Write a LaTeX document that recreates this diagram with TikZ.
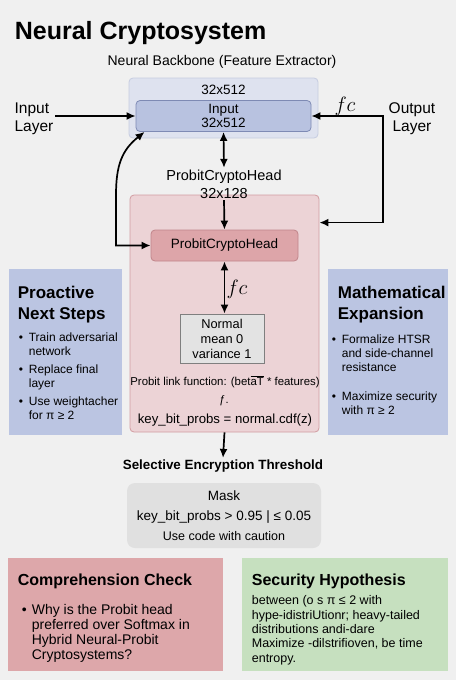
\documentclass[tikz,border=0pt]{standalone}
\usepackage{fontspec}
\setmainfont{Liberation Sans}
\usetikzlibrary{arrows, positioning, shapes.geometric, arrows.meta}
\usepackage{color}
\usepackage{amsmath}

\definecolor{bgcol}{HTML}{F0F0F0}
\definecolor{bbfill}{HTML}{DEE2EF}
\definecolor{bbline}{HTML}{C6CCE0}
\definecolor{infill}{HTML}{B8C2E0}
\definecolor{inline}{HTML}{7E8AB4}
\definecolor{hofill}{HTML}{ECD3D6}
\definecolor{holine}{HTML}{D29CA1}
\definecolor{hifill}{HTML}{DDA5A9}
\definecolor{hiline}{HTML}{C0858A}
\definecolor{sidefill}{HTML}{BBC5E2}
\definecolor{nrmfill}{HTML}{E3E3E3}
\definecolor{nrmline}{HTML}{7F7F7F}
\definecolor{maskfill}{HTML}{E0E0E0}
\definecolor{chkfill}{HTML}{DDA7AA}
\definecolor{hypfill}{HTML}{C6E0BF}

\newcommand{\fsz}[2]{\fontsize{#1}{#2}\selectfont}
\newcommand{\bul}{\makebox[10pt][l]{\textbullet}}
\newcommand{\ind}{\hspace*{10pt}}

\begin{document}
\begin{tikzpicture}[x=1pt, y=-1pt, >={Latex[length=9pt, width=8pt]}, line width=1.7pt,
    box/.style={rounded corners=4pt, line width=0.8pt, inner sep=0pt},
    panel/.style={inner sep=0pt, minimum height=166pt},
    lbl/.style={inner sep=1pt, align=center},
    fclbl/.style={inner sep=1pt, font=\fsz{20}{22}}]
        \fill[bgcol] (0,0) rectangle (456,680);
        \useasboundingbox (0,0) rectangle (456,680);

        \node[anchor=north west, inner sep=0pt, font=\bfseries\fsz{25}{30}] at (14,21) (title) {Neural Cryptosystem};
        \node[lbl, font=\fsz{14}{16}] at (222,62) (bb_lbl) {Neural Backbone (Feature Extractor)};

        \node[box, draw=bbline, fill=bbfill, minimum width=189pt, minimum height=60pt] at (223.5,108) (bb_out) {};
        \node[lbl, font=\fsz{13.5}{15}] at (223.5,90) (bb_size) {32x512};
        \node[box, draw=inline, fill=infill, minimum width=175pt, minimum height=31pt, align=center, font=\fsz{13.5}{14}] at (223.5,116) (bb_in) {Input\\32x512};

        \node[lbl, align=left, font=\fsz{15.5}{18}] at (34,119) (in_lyr) {Input\\Layer};
        \node[lbl, font=\fsz{15.5}{18}] at (412,119) (out_lyr) {Output\\Layer};
        \node[fclbl] at (345,106) (fc_top) {$fc$};
        \coordinate (out_c) at (383,116);

        \node[box, draw=holine, fill=hofill, minimum width=189pt, minimum height=237pt] at (224.5,313.5) (head_out) {};
        \node[lbl, font=\fsz{14.5}{18}] at (224,184) (ph_lbl) {ProbitCryptoHead\\32x128};
        \node[box, draw=hiline, fill=hifill, minimum width=147pt, minimum height=31pt, font=\fsz{13.5}{15}] at (224.5,245.5) (head_in) {ProbitCryptoHead};

        \node[draw=nrmline, fill=nrmfill, line width=0.8pt, minimum width=84pt, minimum height=49pt, inner sep=0pt, align=center, font=\fsz{12.8}{15}] at (222,338.5) (nrm) {Normal\\mean 0\\variance 1};
        \node[fclbl] at (237,289) (fc_mid) {$fc$};

        \node[lbl, font=\fsz{11.4}{13}] at (225,382) (link) {Probit link function: (bet$\overline{\text{aT}}$ * features)};
        \node[lbl, font=\fsz{11}{13}] at (224,401) (fdot) {ƒ.};
        \node[lbl, font=\fsz{13.2}{15}] at (225,420) (cdf) {key\_bit\_probs = normal.cdf(z)};

        \node[lbl, font=\bfseries\fsz{13.4}{15}] at (223,466) (sel) {Selective Encryption Threshold};
        \node[box, rounded corners=8pt, fill=maskfill, minimum width=194pt, minimum height=65pt, align=center, font=\fsz{13.5}{20}] at (224,515.5) (mask) {Mask\\key\_bit\_probs > 0.95 | ≤ 0.05\\{\fsz{12.5}{20}Use code with caution}};

        \node[panel, fill=sidefill, minimum width=113pt] at (65.5,352) (nxt_box) {};
        \node[anchor=north west, inner sep=0pt, align=left, font=\bfseries\fsz{17}{21}] at (17,285) (nxt_title) {Proactive\\Next Steps};
        \node[anchor=north west, inner sep=0pt, align=left, font=\fsz{12}{14}] at (18,332) (nxt_list) {\bul Train adversarial\\\ind network\\[4pt]\bul Replace final\\\ind layer\\[4pt]\bul Use weightacher\\\ind for π ≥ 2};

        \node[panel, fill=sidefill, minimum width=120pt] at (388,352) (mth_box) {};
        \node[anchor=north west, inner sep=0pt, align=left, font=\bfseries\fsz{17}{21}] at (337,285) (mth_title) {Mathematical\\Expansion};
        \node[anchor=north west, inner sep=0pt, align=left, font=\fsz{12}{14}] at (331,334) (mth_list) {\bul Formalize HTSR\\\ind and side-channel\\\ind resistance\\[15pt]\bul Maximize security\\\ind with π ≥ 2};

        \node[inner sep=0pt, fill=chkfill, minimum width=215pt, minimum height=113pt] at (115.5,614.5) (chk_box) {};
        \node[anchor=north west, inner sep=0pt, font=\bfseries\fsz{16}{19}] at (17,573) (chk_title) {Comprehension Check};
        \node[anchor=north west, inner sep=0pt, align=left, font=\fsz{14}{15}] at (21,603) (chk_list) {\bul Why is the Probit head\\\ind preferred over Softmax in\\\ind Hybrid Neural-Probit\\\ind Cryptosystems?};

        \node[inner sep=0pt, fill=hypfill, minimum width=206pt, minimum height=113pt] at (345,614.5) (hyp_box) {};
        \node[anchor=north west, inner sep=0pt, font=\bfseries\fsz{16}{19}] at (251,573) (hyp_title) {Security Hypothesis};
        \node[anchor=north west, inner sep=0pt, align=left, font=\fsz{12.5}{14.3}] at (251,595) (hyp_text) {between (o s π ≤ 2 with\\hype-idistriUtionr; heavy-tailed\\distributions andi-dare\\Maximize -dilstrifioven, be time\\entropy.};

        \draw[->] (in_lyr.east |- bb_in.west) -- (bb_in.west);
        \draw[<->] (bb_in.east) -- (out_c) |- ([yshift=-28pt]head_out.north east);
        \draw[<->] (bb_in.south) -- (ph_lbl.north);
        \draw[->] (ph_lbl.south) -- (head_in.north);
        \draw[<->] ([xshift=9pt]bb_in.south west) .. controls (122,150) and (116,165) .. (116,195) |- (head_in.west);
        \draw[<->] (head_in.south) -- (nrm.north -| head_in.south);
        \draw[->] (head_out.south) -- (sel.north);
\end{tikzpicture}
\end{document}
